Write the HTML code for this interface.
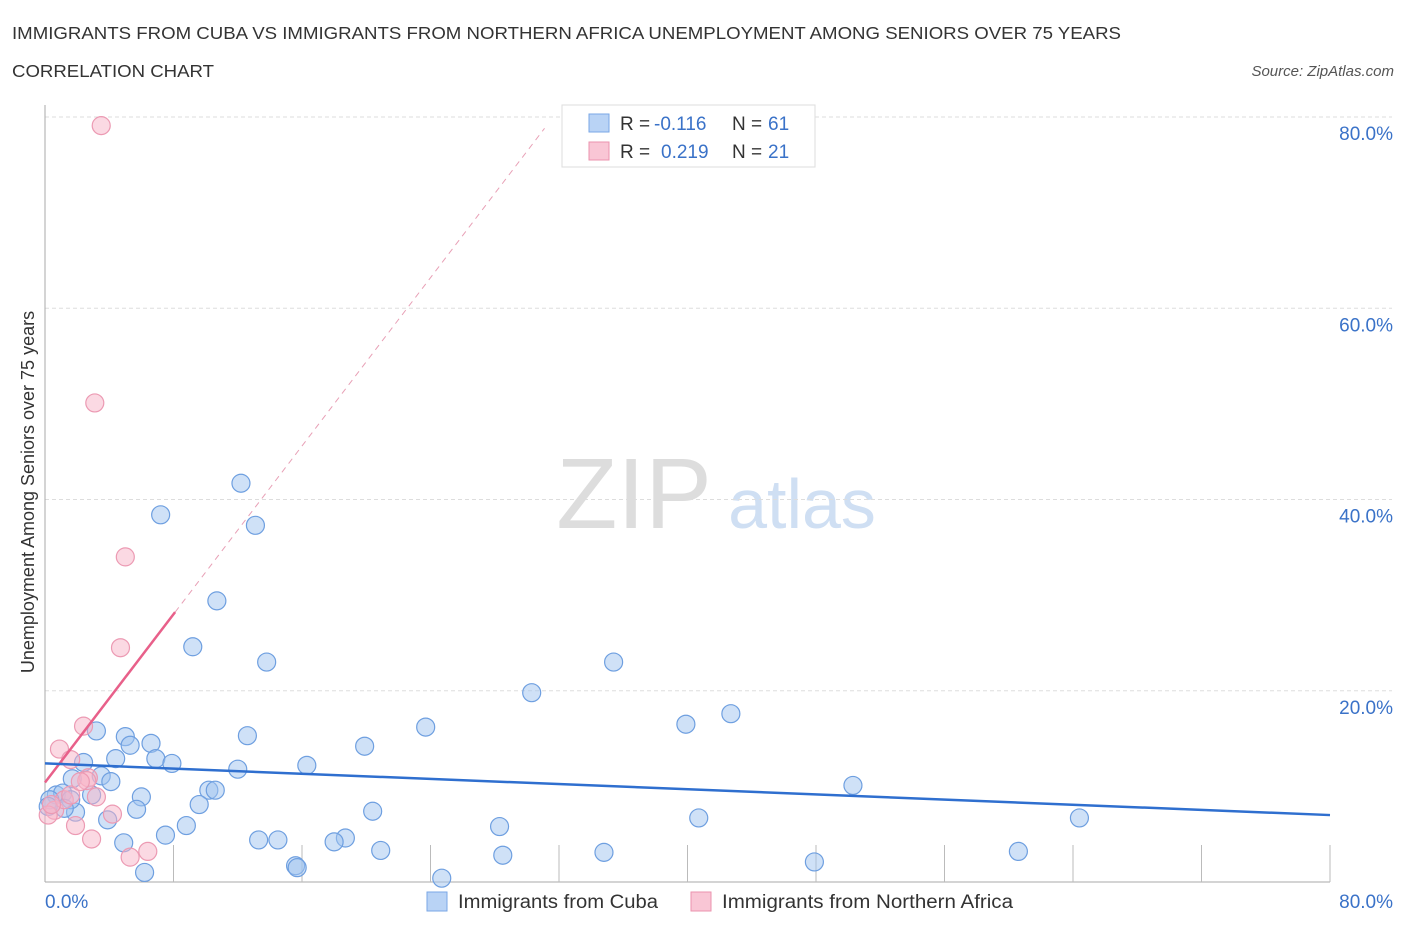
<!DOCTYPE html>
<html><head><meta charset="utf-8"><style>
body{margin:0;background:#fff;font-family:"Liberation Sans",sans-serif}
svg text{font-family:"Liberation Sans",sans-serif}
</style></head><body>
<svg id="c" width="1406" height="930">
<text x="12" y="39" font-size="17.5" fill="#333" textLength="1109" lengthAdjust="spacingAndGlyphs">IMMIGRANTS FROM CUBA VS IMMIGRANTS FROM NORTHERN AFRICA UNEMPLOYMENT AMONG SENIORS OVER 75 YEARS</text>
<text x="12" y="77" font-size="17.5" fill="#333" textLength="202" lengthAdjust="spacingAndGlyphs">CORRELATION CHART</text>
<text x="1394" y="76" font-size="15" font-style="italic" fill="#555" text-anchor="end">Source: ZipAtlas.com</text>
<text x="634" y="528" font-size="100" font-family="Liberation Serif" fill="#ddd" text-anchor="middle">ZIP</text>
<text x="802" y="528" font-size="70" fill="#cfdff3" text-anchor="middle">atlas</text>
<text transform="translate(34,492) rotate(-90)" font-size="18" fill="#333" text-anchor="middle">Unemployment Among Seniors over 75 years</text>
<g id="grid"></g><g id="marks"></g>
<g>
<rect x="562" y="105" width="253" height="62" fill="#fff" stroke="#ddd"/>
<rect x="589" y="114" width="20" height="18" fill="#b9d3f5" stroke="#7aa7e6"/>
<rect x="589" y="142" width="20" height="18" fill="#f9c6d5" stroke="#eb93ae"/>
<text x="620" y="130" font-size="19" fill="#333">R =</text>
<text x="654" y="130" font-size="19" fill="#3a72c8">-0.116</text>
<text x="732" y="130" font-size="19" fill="#333">N =</text>
<text x="768" y="130" font-size="19" fill="#3a72c8">61</text>
<text x="620" y="158" font-size="19" fill="#333">R =</text>
<text x="661" y="158" font-size="19" fill="#3a72c8">0.219</text>
<text x="732" y="158" font-size="19" fill="#333">N =</text>
<text x="768" y="158" font-size="19" fill="#3a72c8">21</text>
</g>
<g>
<rect x="427" y="892" width="20" height="19" fill="#b9d3f5" stroke="#7aa7e6"/>
<text x="458" y="908" font-size="19" fill="#333" textLength="200" lengthAdjust="spacingAndGlyphs">Immigrants from Cuba</text>
<rect x="691" y="892" width="20" height="19" fill="#f9c6d5" stroke="#eb93ae"/>
<text x="722" y="908" font-size="19" fill="#333" textLength="291" lengthAdjust="spacingAndGlyphs">Immigrants from Northern Africa</text>
</g>
</svg>
<script>
const yTicks=[20,40,60,80];
const xTickLabels=["0.0%","80.0%"];
const cubaX=[12.2,7.2,13.1,10.7,9.2,13.8,35.4,30.3,42.7,39.9,23.7,3.2,5.0,12.6,6.6,5.3,19.9,4.4,6.9,7.9,16.3,2.4,12.0,3.5,1.7,4.1,50.3,10.2,10.6,2.9,6.0,0.7,1.1,9.6,5.7,20.4,1.9,0.3,3.9,8.8,28.3,40.7,64.4,7.5,4.9,13.3,14.5,18.7,18.0,20.9,34.8,60.6,28.5,15.6,15.7,47.9,6.2,24.7,1.6,1.2,0.2];
const cubaY=[41.7,38.4,37.3,29.4,24.6,23.0,23.0,19.8,17.6,16.5,16.2,15.8,15.2,15.3,14.5,14.3,14.2,12.9,12.9,12.4,12.2,12.5,11.8,11.1,10.8,10.5,10.1,9.6,9.6,9.1,8.9,9.1,9.3,8.1,7.6,7.4,7.3,8.6,6.5,5.9,5.8,6.7,6.7,4.9,4.1,4.4,4.4,4.6,4.2,3.3,3.1,3.2,2.8,1.7,1.5,2.1,1.0,0.4,8.6,7.7,7.9];
const afrX=[3.5,3.1,5.0,4.7,2.4,0.9,1.6,2.7,2.6,4.2,1.9,2.9,5.3,6.4,0.6,1.2,0.2,1.6,3.2,0.4,2.2];
const afrY=[79.1,50.1,34.0,24.5,16.3,13.9,12.8,10.9,10.6,7.1,5.9,4.5,2.6,3.2,7.5,8.6,7.0,9.1,8.9,8.1,10.5];
const cubaTrend=[12.4,7.0];
const afrTrend=[10.4,2.2];
const NS="http://www.w3.org/2000/svg";
const X=v=>45+v*1285/80, Y=v=>882-v*765/80;
function mk(t,a,p){const e=document.createElementNS(NS,t);for(const k in a)e.setAttribute(k,a[k]);p.appendChild(e);return e;}
const g=document.getElementById('grid'),m=document.getElementById('marks');
yTicks.forEach(t=>{
 const l=mk('line',{x1:45,x2:1392,y1:Y(t),y2:Y(t),stroke:'#ddd','stroke-dasharray':'4,3'},g);
 
 
 const tx=mk('text',{x:1393,y:Y(t)+23,'font-size':19,fill:'#3a72c8','text-anchor':'end'},g);tx.textContent=t.toFixed(1)+'%';
 
 
});
const ax=mk('line',{x1:45,x2:45,y1:105,y2:882,stroke:'#aaa'},g);


const bx=mk('line',{x1:45,x2:1330,y1:882,y2:882,stroke:'#aaa'},g);


for(let i=1;i<=10;i++){const tk=mk('line',{x1:X(i*8),x2:X(i*8),y1:845,y2:882,stroke:'#bbb'},g);
 
 }
const xl0=mk('text',{x:45,y:908,'font-size':19,fill:'#3a72c8'},g);xl0.textContent=xTickLabels[0];


const xl1=mk('text',{x:1393,y:908,'font-size':19,fill:'#3a72c8','text-anchor':'end'},g);xl1.textContent=xTickLabels[1];


cubaX.forEach((v,i)=>{const c=mk('circle',{cx:X(v),cy:Y(cubaY[i]),r:9,fill:'rgba(160,196,240,0.5)',stroke:'#6e9fe0','stroke-width':1.2},m);
 
 });
afrX.forEach((v,i)=>{const c=mk('circle',{cx:X(v),cy:Y(afrY[i]),r:9,fill:'rgba(247,180,200,0.5)',stroke:'#ec9ab3','stroke-width':1.2},m);
 
 });
const at=v=>afrTrend[0]+afrTrend[1]*v;
const d=mk('line',{x1:X(8.1),y1:Y(at(8.1)),x2:X(31.1),y2:Y(at(31.1)),stroke:'#e8a0b6','stroke-dasharray':'6,5'},m);


const s=mk('line',{x1:X(0),y1:Y(at(0)),x2:X(8.1),y2:Y(at(8.1)),stroke:'#e8608a','stroke-width':2.5},m);


const b=mk('line',{x1:X(0),y1:Y(cubaTrend[0]),x2:X(80),y2:Y(cubaTrend[1]),stroke:'#2f6fcf','stroke-width':2.5},m);


</script>
</body></html>
